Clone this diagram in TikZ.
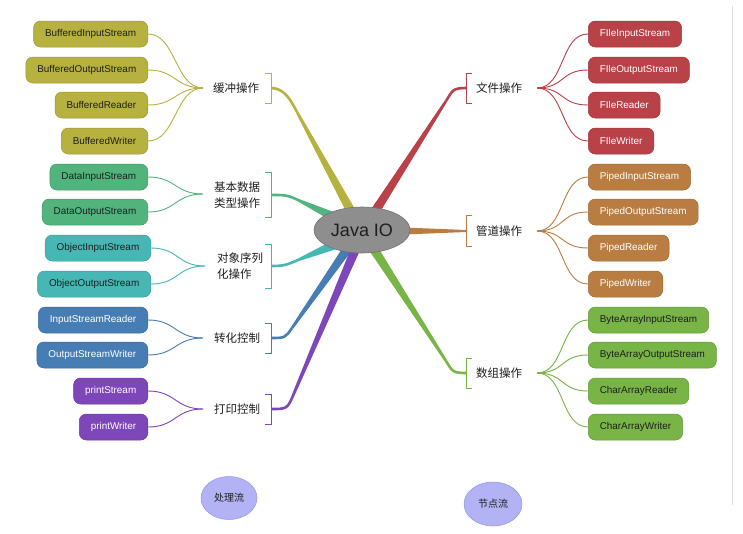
\documentclass[tikz,border=0pt]{standalone}
\usepackage{fontspec}
\setmainfont{Liberation Sans}
\newfontfamily\cjk{Noto Sans CJK SC}
\usetikzlibrary{calc,shapes.geometric}
\definecolor{cA}{RGB}{183,178,64}
\definecolor{cB}{RGB}{82,180,125}
\definecolor{cC}{RGB}{70,183,180}
\definecolor{cD}{RGB}{70,125,180}
\definecolor{cE}{RGB}{125,70,185}
\definecolor{cF}{RGB}{185,65,72}
\definecolor{cG}{RGB}{185,125,65}
\definecolor{cH}{RGB}{120,180,70}
\definecolor{txtD}{RGB}{30,30,30}
\definecolor{lav}{RGB}{178,178,245}
\definecolor{lavD}{RGB}{150,150,225}
\definecolor{jgray}{RGB}{142,142,142}
\newcommand\mybr[5]{%
  \draw[#1, line width=2.6pt] (#2) .. controls ($(#2)+(#3,0)$) and ($(#4)!-12pt!(#5)$) .. (#4);
  \fill[#1] ($(#4)!1.3pt!90:(#5)$) -- ($(#5)!4.6pt!-90:(#4)$) -- ($(#5)!4.6pt!90:(#4)$) -- ($(#4)!1.3pt!-90:(#5)$) -- cycle;}
\begin{document}
\begin{tikzpicture}[x=1pt,y=-1pt,
  box/.style={rounded corners=7pt, minimum height=26pt, inner xsep=11.5pt, inner ysep=0pt,
    font=\fontsize{9.9}{11}\selectfont, line width=0.5pt},
  lbox/.style={box, anchor=east},
  rbox/.style={box, anchor=west},
  lab/.style={font=\cjk\fontsize{11.5}{16}\selectfont, align=left, inner sep=0pt, anchor=west, text=txtD},
  fan/.style={line width=0.9pt},
  brk/.style={line width=1pt},
]
\fill[white] (0,0) rectangle (743,533);
\useasboundingbox (0,0) rectangle (743,533);
\draw[line width=1pt, black!13] (732,6) -- (732,505);

% ---------- left groups ----------
\node[lbox, fill=cA, draw=cA!85!black, text=txtD] (a1) at (148,34) {BufferedInputStream};
\node[lbox, fill=cA, draw=cA!85!black, text=txtD] (a2) at (148,70) {BufferedOutputStream};
\node[lbox, fill=cA, draw=cA!85!black, text=txtD] (a3) at (148,105) {BufferedReader};
\node[lbox, fill=cA, draw=cA!85!black, text=txtD] (a4) at (148,141) {BufferedWriter};
\coordinate (fA) at (203,88);
\node[lab] (lA) at (213,88) {缓冲操作};
\draw[brk, cA] (265,73) -- (271,73) -- (271,103) -- (265,103);
\coordinate (bA) at (271,88);
\foreach \n in {a1,a2,a3,a4} \draw[fan, cA] (\n.east) .. controls +(28,0) and +(-28,0) .. (fA);

\node[lbox, fill=cB, draw=cB!85!black, text=txtD] (b1) at (148,177) {DataInputStream};
\node[lbox, fill=cB, draw=cB!85!black, text=txtD] (b2) at (148,212) {DataOutputStream};
\coordinate (fB) at (203,194);
\node[lab] (lB) at (214,195) {基本数据\\类型操作};
\draw[brk, cB] (265,172) -- (271,172) -- (271,217) -- (265,217);
\coordinate (bB) at (271,195);
\foreach \n in {b1,b2} \draw[fan, cB] (\n.east) .. controls +(28,0) and +(-28,0) .. (fB);

\node[lbox, fill=cC, draw=cC!85!black, text=txtD] (c1) at (151,248) {ObjectInputStream};
\node[lbox, fill=cC, draw=cC!85!black, text=txtD] (c2) at (151,284) {ObjectOutputStream};
\coordinate (fC) at (205,266);
\node[lab] (lC) at (217,266) {对象序列\\化操作};
\draw[brk, cC] (265,244) -- (271,244) -- (271,288) -- (265,288);
\coordinate (bC) at (271,266);
\foreach \n in {c1,c2} \draw[fan, cC] (\n.east) .. controls +(28,0) and +(-28,0) .. (fC);

\node[lbox, fill=cD, draw=cD!85!black, text=white] (d1) at (148,320) {InputStreamReader};
\node[lbox, fill=cD, draw=cD!85!black, text=white] (d2) at (148,355) {OutputStreamWriter};
\coordinate (fD) at (203,338);
\node[lab] (lD) at (214,338) {转化控制};
\draw[brk, cD] (265,323) -- (271,323) -- (271,353) -- (265,353);
\coordinate (bD) at (271,338);
\foreach \n in {d1,d2} \draw[fan, cD] (\n.east) .. controls +(28,0) and +(-28,0) .. (fD);

\node[lbox, fill=cE, draw=cE!85!black, text=white] (e1) at (148,391) {printStream};
\node[lbox, fill=cE, draw=cE!85!black, text=white] (e2) at (148,427) {printWriter};
\coordinate (fE) at (203,409);
\node[lab] (lE) at (214,409) {打印控制};
\draw[brk, cE] (265,394) -- (271,394) -- (271,424) -- (265,424);
\coordinate (bE) at (271,409);
\foreach \n in {e1,e2} \draw[fan, cE] (\n.east) .. controls +(28,0) and +(-28,0) .. (fE);

% ---------- right groups ----------
\node[rbox, fill=cF, draw=cF!85!black, text=white] (f1) at (588,34) {FIleInputStream};
\node[rbox, fill=cF, draw=cF!85!black, text=white] (f2) at (588,70) {FIleOutputStream};
\node[rbox, fill=cF, draw=cF!85!black, text=white] (f3) at (588,105) {FIleReader};
\node[rbox, fill=cF, draw=cF!85!black, text=white] (f4) at (588,141) {FIleWriter};
\coordinate (fF) at (537,88);
\node[lab] (lF) at (476,88) {文件操作};
\draw[brk, cF] (472,73) -- (466,73) -- (466,103) -- (472,103);
\coordinate (bF) at (466,88);
\foreach \n in {f1,f2,f3,f4} \draw[fan, cF] (fF) .. controls +(28,0) and +(-28,0) .. (\n.west);

\node[rbox, fill=cG, draw=cG!85!black, text=white] (g1) at (588,177) {PipedInputStream};
\node[rbox, fill=cG, draw=cG!85!black, text=white] (g2) at (588,212) {PipedOutputStream};
\node[rbox, fill=cG, draw=cG!85!black, text=white] (g3) at (588,248) {PipedReader};
\node[rbox, fill=cG, draw=cG!85!black, text=white] (g4) at (588,284) {PipedWriter};
\coordinate (fG) at (537,231);
\node[lab] (lG) at (476,231) {管道操作};
\draw[brk, cG] (472,215) -- (466,215) -- (466,246) -- (472,246);
\coordinate (bG) at (466,231);
\foreach \n in {g1,g2,g3,g4} \draw[fan, cG] (fG) .. controls +(28,0) and +(-28,0) .. (\n.west);

\node[rbox, fill=cH, draw=cH!85!black, text=txtD] (h1) at (588,320) {ByteArrayInputStream};
\node[rbox, fill=cH, draw=cH!85!black, text=txtD] (h2) at (588,355) {ByteArrayOutputStream};
\node[rbox, fill=cH, draw=cH!85!black, text=txtD] (h3) at (588,391) {CharArrayReader};
\node[rbox, fill=cH, draw=cH!85!black, text=txtD] (h4) at (588,427) {CharArrayWriter};
\coordinate (fH) at (537,373);
\node[lab] (lH) at (476,373) {数组操作};
\draw[brk, cH] (472,358) -- (466,358) -- (466,388) -- (472,388);
\coordinate (bH) at (466,373);
\foreach \n in {h1,h2,h3,h4} \draw[fan, cH] (fH) .. controls +(28,0) and +(-28,0) .. (\n.west);

% ---------- main branches ----------
\coordinate (pA) at (297,112); \coordinate (eA) at (352,213);
\coordinate (pB) at (298,200); \coordinate (eB) at (334,217);
\coordinate (pC) at (298,260); \coordinate (eC) at (334,245);
\coordinate (pD) at (292,328); \coordinate (eD) at (348,248);
\coordinate (pE) at (292,398); \coordinate (eE) at (356,248);
\coordinate (pF) at (446,101); \coordinate (eF) at (374,213);
\coordinate (pH) at (446,361); \coordinate (eH) at (373,248);
\coordinate (eG) at (404,231);
\mybr{cA}{bA}{14}{pA}{eA}
\mybr{cB}{bB}{14}{pB}{eB}
\mybr{cC}{bC}{14}{pC}{eC}
\mybr{cD}{bD}{14}{pD}{eD}
\mybr{cE}{bE}{14}{pE}{eE}
\mybr{cF}{bF}{-14}{pF}{eF}
\mybr{cH}{bH}{-14}{pH}{eH}
\fill[cG] ($(bG)!1pt!90:(eG)$) -- ($(eG)!3.5pt!-90:(bG)$) -- ($(eG)!3.5pt!90:(bG)$) -- ($(bG)!1pt!-90:(eG)$) -- cycle;

\node[ellipse, inner sep=0pt, minimum width=96pt, minimum height=46pt, fill=jgray, draw=black!55, line width=0.6pt,
  font=\fontsize{18}{20}\selectfont, text=txtD] (jio) at (362,230) {Java IO};

% ---------- bottom legend ----------
\node[ellipse, inner sep=0pt, minimum width=56pt, minimum height=43pt, fill=lav, draw=lavD, line width=0.5pt,
  font=\cjk\fontsize{10}{12}\selectfont, text=txtD] (proc) at (229,498) {处理流};
\node[ellipse, inner sep=0pt, minimum width=58pt, minimum height=44pt, fill=lav, draw=lavD, line width=0.5pt,
  font=\cjk\fontsize{10}{12}\selectfont, text=txtD] (nodef) at (493,504) {节点流};
\end{tikzpicture}
\end{document}
